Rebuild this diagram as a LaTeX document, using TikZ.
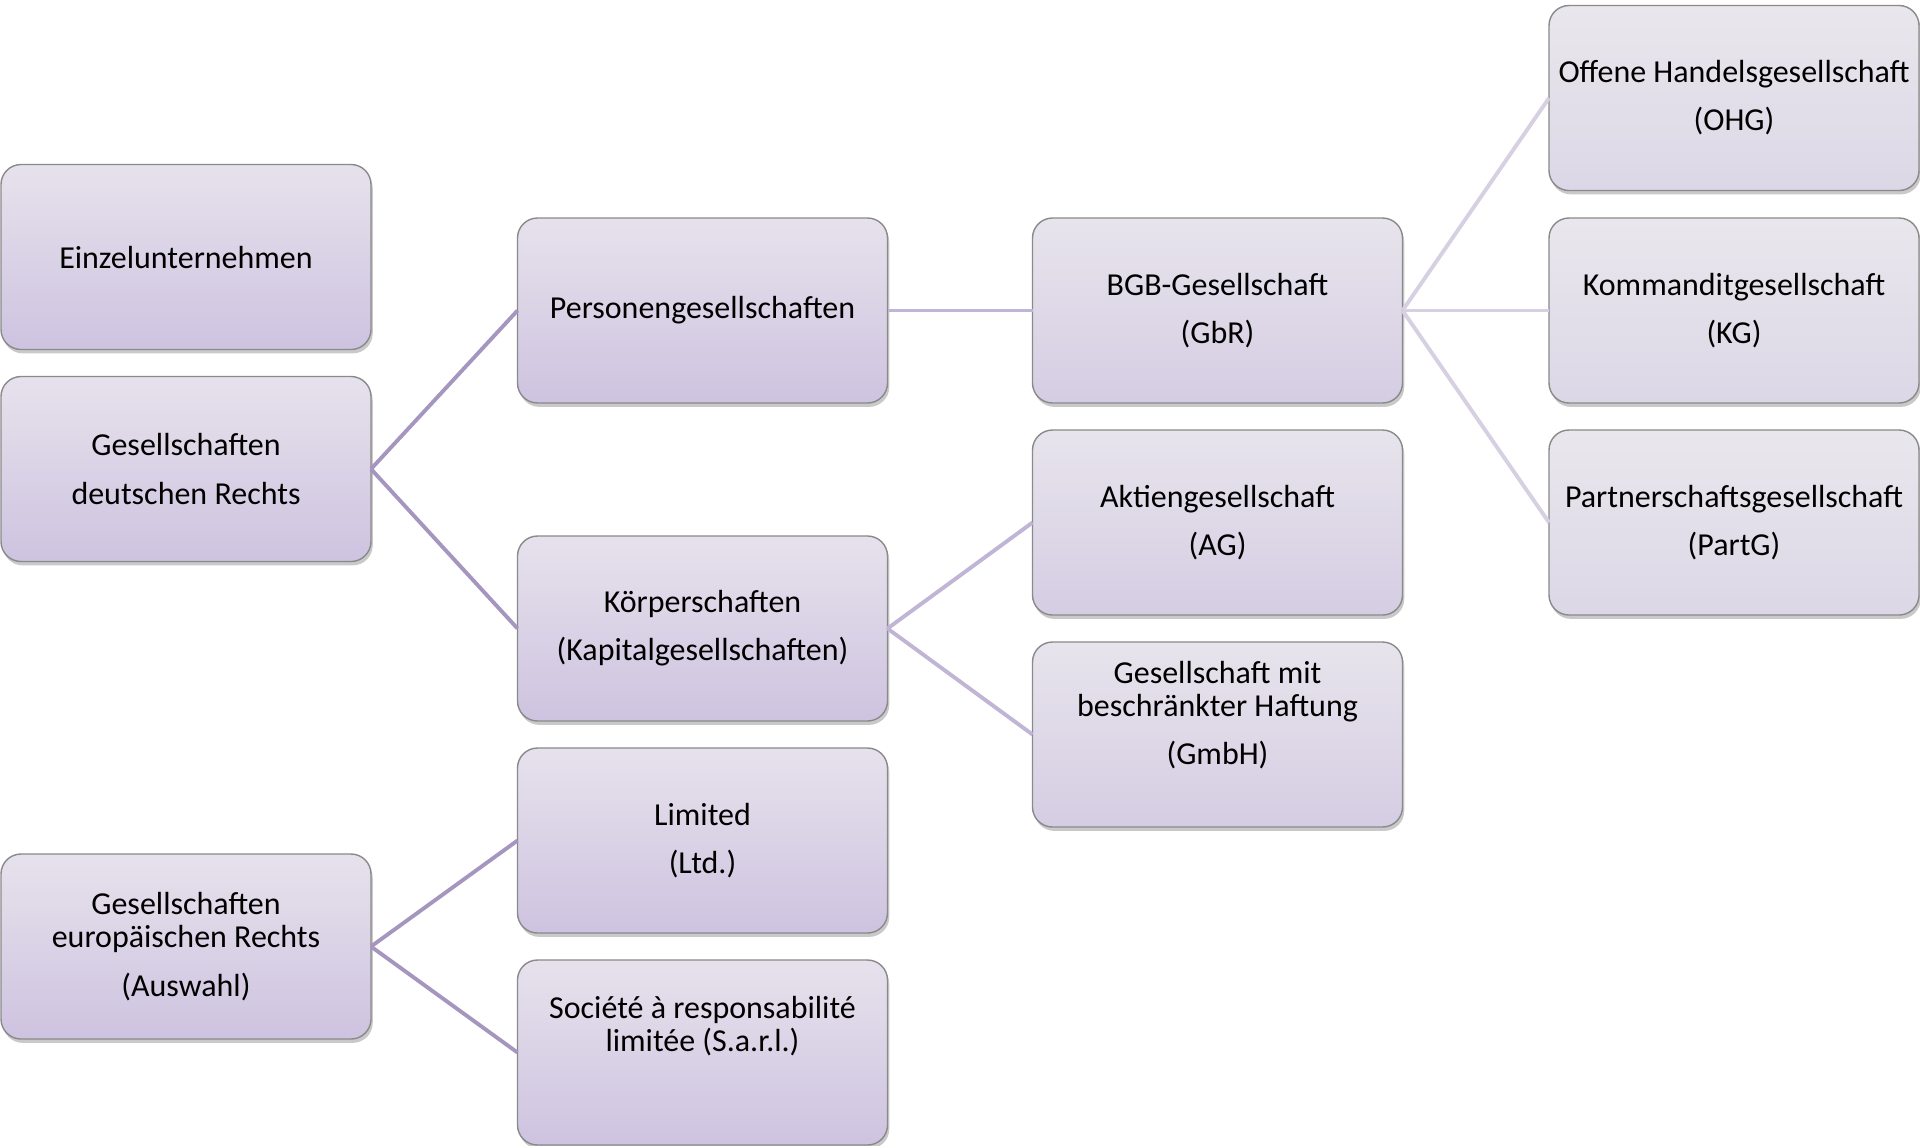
\documentclass[tikz,border=0pt]{standalone}
\usepackage{fontspec}
\setmainfont{Carlito}
\usepackage{tikz}
\usetikzlibrary{shadows}
\definecolor{boxtop}{HTML}{E6E2EC}
\definecolor{boxbot}{HTML}{CEC3E0}
\definecolor{boxtopb}{HTML}{E7E4EC}
\definecolor{boxbotb}{HTML}{D5CDE3}
\definecolor{boxtopc}{HTML}{E9E7ED}
\definecolor{boxbotc}{HTML}{DCD7E6}
\definecolor{edge}{HTML}{8A8A8A}
\definecolor{linka}{HTML}{A596C0}
\definecolor{linkb}{HTML}{C0B5D4}
\definecolor{linkc}{HTML}{D6D0E2}
\tikzstyle{box}=[draw=edge,line width=0.4,rounded corners=0.2cm,minimum width=3.70cm,minimum height=1.85cm,inner sep=0pt,outer sep=0pt,align=center,font=\fontsize{9.1pt}{9.4pt}\selectfont,text=black,top color=boxtop,bottom color=boxbot,drop shadow={shadow xshift=0.5pt,shadow yshift=-1.1pt,opacity=0.35,fill=black!60}]
\tikzstyle{boxb}=[box,top color=boxtopb,bottom color=boxbotb]
\tikzstyle{boxc}=[box,top color=boxtopc,bottom color=boxbotc]
\tikzstyle{linkA}=[draw=linka,line width=1.1]
\tikzstyle{linkB}=[draw=linkb,line width=1.1]
\tikzstyle{linkC}=[draw=linkc,line width=1.1]

\begin{document}
\begin{tikzpicture}
 \useasboundingbox [fill=white] (0, 0) rectangle (19.2, -11.45);
 \node [style=box] (0) at (1.86, -2.57)  {Einzelunternehmen};
 \node [style=box] (1) at (1.86, -4.69)  {Gesellschaften\\[4.3pt]deutschen Rechts};
 \node [style=box] (2) at (1.86, -9.465) {Gesellschaften\\europäischen Rechts\\[4.3pt](Auswahl)};
 \node [style=box] (3) at (7.025, -3.105) {Personengesellschaften};
 \node [style=box] (4) at (7.025, -6.285) {Körperschaften\\[4.3pt](Kapitalgesellschaften)};
 \node [style=box] (5) at (7.025, -8.405) {Limited\\[4.3pt](Ltd.)};
 \node [style=box] (6) at (7.025, -10.525) {Société à responsabilité\\limitée (S.a.r.l.)\\[4.3pt]\strut};
 \node [style=boxb] (7) at (12.175, -3.105) {BGB-Gesellschaft\\[4.3pt](GbR)};
 \node [style=boxb] (8) at (12.175, -5.225) {Aktiengesellschaft\\[4.3pt](AG)};
 \node [style=boxb] (9) at (12.175, -7.345) {Gesellschaft mit\\beschränkter Haftung\\[4.3pt](GmbH)\\\strut};
 \node [style=boxc] (10) at (17.34, -0.98)  {Offene Handelsgesellschaft\\[4.3pt](OHG)};
 \node [style=boxc] (11) at (17.34, -3.105) {Kommanditgesellschaft\\[4.3pt](KG)};
 \node [style=boxc] (12) at (17.34, -5.225) {Partnerschaftsgesellschaft\\[4.3pt](PartG)};
 \draw [style=linkA] (1.east) to (3.west);
 \draw [style=linkA] (1.east) to (4.west);
 \draw [style=linkA] (2.east) to (5.west);
 \draw [style=linkA] (2.east) to (6.west);
 \draw [style=linkB] (3.east) to (7.west);
 \draw [style=linkB] (4.east) to (8.west);
 \draw [style=linkB] (4.east) to (9.west);
 \draw [style=linkC] (7.east) to (10.west);
 \draw [style=linkC] (7.east) to (11.west);
 \draw [style=linkC] (7.east) to (12.west);
\end{tikzpicture}
\end{document}
